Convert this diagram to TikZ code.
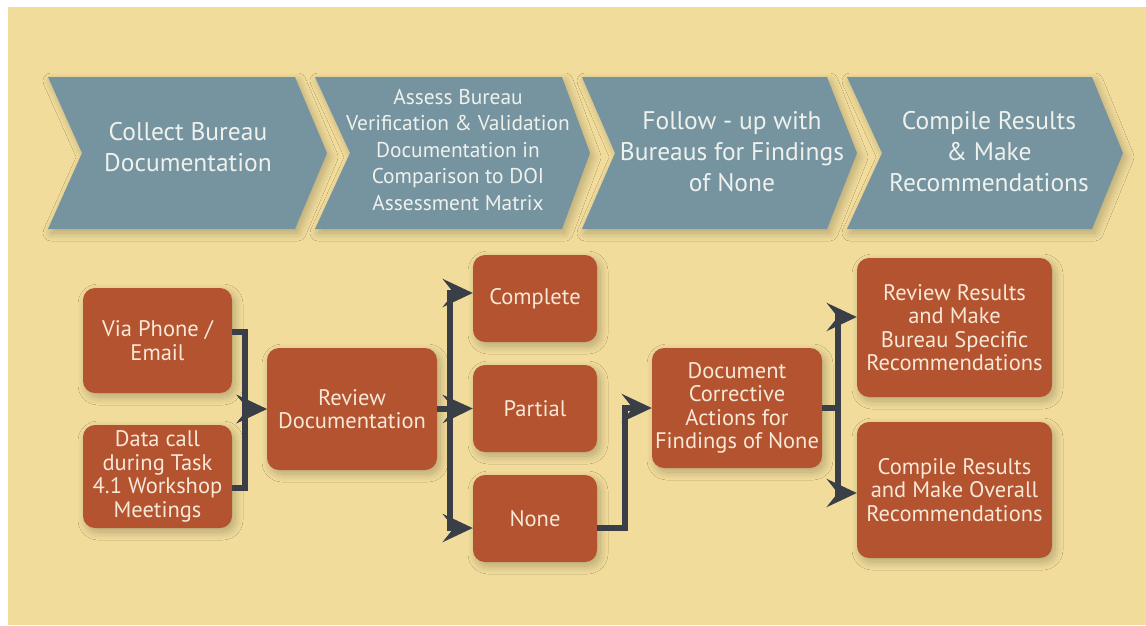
\documentclass[tikz,border=0pt]{standalone}
\usepackage{fontspec}
\setmainfont{PT Sans}
\usetikzlibrary{arrows.meta,shadows.blur}

\definecolor{panel}{HTML}{F1DC9B}
\definecolor{slate}{HTML}{7693A0}
\definecolor{rust}{HTML}{B4532F}
\definecolor{wirecol}{HTML}{3A3E47}
\definecolor{chevtext}{HTML}{EEF1EC}
\definecolor{boxtext}{HTML}{F7E8D8}

\tikzset{
  softshadow/.style={blur shadow={shadow xshift=3pt, shadow yshift=-4pt,
      shadow blur radius=8pt, shadow opacity=24, shadow blur steps=12}},
  chevron/.style={fill=slate, softshadow},
  chevlabel/.style={text=chevtext, align=center, inner sep=0pt,
      font=\fontsize{25.5}{31}\selectfont},
  stage/.style={fill=rust, rounded corners=12pt, text=boxtext, align=center,
      inner sep=0pt, font=\fontsize{22.5}{23.5}\selectfont, softshadow},
  wire/.style={draw=wirecol, line width=5.5pt},
  flow/.style={wire, -{Stealth[length=30pt 0 0,width=28pt 0,inset=11pt]}},
}

\begin{document}
\begin{tikzpicture}[x=1pt,y=-1pt]
  \useasboundingbox (0,0) rectangle (1146,625);
  \fill[white] (0,0) rectangle (1146,625);
  \fill[panel] (8,7) rectangle (1146,625);

  % phase chevrons
  \path[chevron] (48,77) -- (295,77) -- (327,153) -- (295,229) -- (48,229) -- (82,153) -- cycle;
  \path[chevron] (315,77) -- (562,77) -- (590,153) -- (562,229) -- (315,229) -- (350,153) -- cycle;
  \path[chevron] (582,77) -- (827,77) -- (857,153) -- (827,229) -- (582,229) -- (615,153) -- cycle;
  \path[chevron] (847,77) -- (1092,77) -- (1123,153) -- (1092,229) -- (847,229) -- (882,153) -- cycle;

  \node[chevlabel] (p1) at (188,147) {Collect Bureau\\Documentation};
  \node[chevlabel, font=\fontsize{21.4}{26.5}\selectfont] (p2) at (458,150)
    {Assess Bureau\\Verification \& Validation\\Documentation in\\Comparison to DOI\\Assessment Matrix};
  \node[chevlabel] (p3) at (732,152) {Follow - up with\\Bureaus for Findings\\of None};
  \node[chevlabel] (p4) at (989,152) {Compile Results\\\& Make\\Recommendations};

  % process boxes
  \node[stage, minimum width=149pt, minimum height=105pt] (phone) at (157.5,340.5) {Via Phone /\\Email};
  \node[stage, minimum width=149pt, minimum height=103pt] (data) at (157.5,476.5)
    {Data call\\during Task\\4.1 Workshop\\Meetings};
  \node[stage, minimum width=170pt, minimum height=122pt] (review) at (352,409) {Review\\Documentation};
  \node[stage, minimum width=124pt, minimum height=87pt] (complete) at (535,298.5) {Complete};
  \node[stage, minimum width=124pt, minimum height=87pt] (partial) at (535,408.5) {Partial};
  \node[stage, minimum width=124pt, minimum height=87pt] (none) at (535,518.5) {None};
  \node[stage, minimum width=170pt, minimum height=120pt] (doc) at (737,408)
    {Document\\Corrective\\Actions for\\Findings of None};
  \node[stage, minimum width=195pt, minimum height=139pt] (rr) at (954.5,327.5)
    {Review Results\\and Make\\Bureau Specific\\Recommendations};
  \node[stage, minimum width=195pt, minimum height=136pt] (cr) at (954.5,490)
    {Compile Results\\and Make Overall\\Recommendations};

  % connectors
  \draw[flow] (phone.east |- 0,332) -- ++(13,0) |- (review.west);
  \draw[flow] (data.east |- 0,488) -- ++(13,0) |- (review.west);

  \draw[flow] (review.east) -- ++(13,0) |- (complete.west |- 0,293);
  \draw[flow] (review.east) -- (partial.west);
  \draw[flow] (review.east) -- ++(13,0) |- (none.west |- 0,528);

  \draw[flow] (none.east |- 0,528) -- ++(28,0) |- (doc.west);

  \draw[flow] (doc.east) -- ++(16,0) |- (rr.west |- 0,317);
  \draw[flow] (doc.east) -- ++(16,0) |- (cr.west |- 0,493);
\end{tikzpicture}
\end{document}
